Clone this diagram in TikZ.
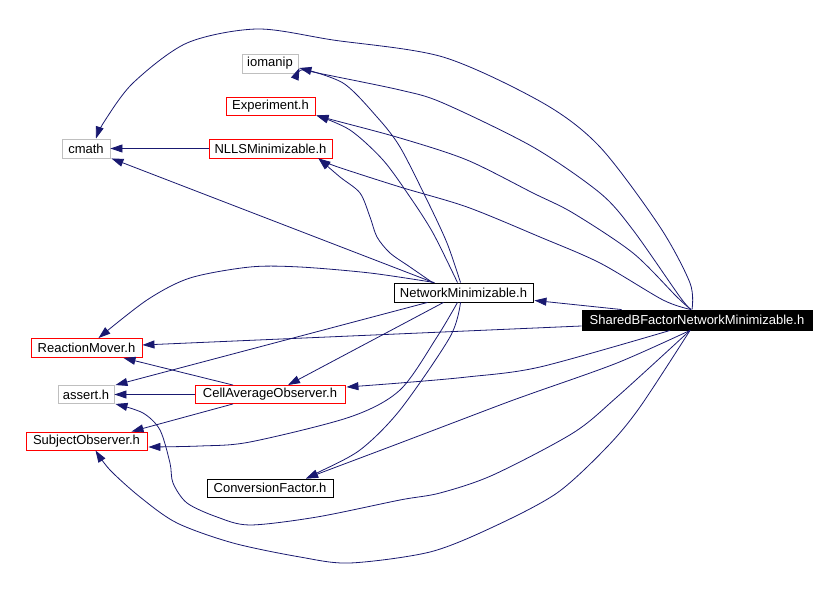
\documentclass[tikz,border=0pt]{standalone}
\usepackage{fontspec}
\setmainfont{Liberation Sans}
\usetikzlibrary{arrows.meta,calc}
\definecolor{edgec}{RGB}{25,25,112}
\definecolor{grayb}{RGB}{191,191,191}
\tikzset{
  box/.style={rectangle, draw, line width=0.9pt, inner sep=0pt, fill=white,
    font=\fontsize{13}{15}\selectfont},
  redbox/.style={box, draw=red},
  graybox/.style={box, draw=grayb},
  blackbox/.style={box, draw=black},
  edge/.style={draw=edgec, line width=0.8pt, -{Triangle[length=12pt,width=8pt]}},
  sm/.style={smooth, tension=0.5}
}
\begin{document}
\begin{tikzpicture}[x=1pt,y=-1pt]
\useasboundingbox (0,0) rectangle (836,601);
% nodes
\node[graybox, minimum width=56pt, minimum height=19pt] (iom) at (270,63.5) {iomanip};
\node[redbox, minimum width=89pt, minimum height=18pt] (exp) at (270.5,106) {Experiment.h};
\node[graybox, minimum width=48pt, minimum height=19pt] (cm) at (86,148.5) {cmath};
\node[redbox, minimum width=123pt, minimum height=19pt] (nlls) at (270.5,148.5) {NLLSMinimizable.h};
\node[blackbox, minimum width=139pt, minimum height=19pt] (nm) at (463.5,292.5) {NetworkMinimizable.h};
\node[box, draw=black, fill=black, text=white, minimum width=230pt, minimum height=20pt] (sb) at (697,320) {SharedBFactorNetworkMinimizable.h};
\node[redbox, minimum width=111pt, minimum height=19pt] (rm) at (86.5,348) {ReactionMover.h};
\node[graybox, minimum width=56pt, minimum height=18pt] (ash) at (86,394.5) {assert.h};
\node[redbox, minimum width=150pt, minimum height=18pt] (ca) at (270,394.5) {CellAverageObserver.h};
\node[redbox, minimum width=121pt, minimum height=18pt] (so) at (86.5,441) {SubjectObserver.h};
\node[blackbox, minimum width=126pt, minimum height=18pt] (cf) at (270,488) {ConversionFactor.h};

% edges from SharedBFactorNetworkMinimizable.h
\draw[edge] plot[sm] coordinates {($(sb.north)+(-5,0)$) (690,283) (660,227) (600,147) (543,103) (443,57) (333,40) (257,29) (187,43) (133,83) (104,122) ($(cm.north)+(10,0)$)};
\draw[edge] plot[sm] coordinates {($(sb.north)+(-6,0)$) (680,297) (633,230) (600,193) (533,147) (443,103) (400,90) (313,72) ($(iom.east)+(1,4.5)$)};
\draw[edge] plot[sm] coordinates {($(sb.north)+(-6,0)$) (677,297) (633,253) (573,213) (533,193) (467,160) (400,138) (333,120) ($(exp.south east)+(1,0)$)};
\draw[edge] plot[sm] coordinates {($(sb.north)+(-6,0)$) (663,300) (600,263) (540,237) (467,207) (400,187) (335,166) ($(nlls.south east)+(-14,0)$)};
\draw[edge] ($(sb.north west)+(40,0)$) -- ($(nm.south east)+(1,-2)$);
\draw[edge] ($(sb.west)+(0,6)$) -- ($(rm.east)+(0,-3)$);
\draw[edge] plot[sm] coordinates {($(sb.south)+(-27,0)$) (540,367) (467,377) (400,383) ($(ca.north east)+(1,2)$)};
\draw[edge] plot[sm] coordinates {($(sb.south)+(-7,0)$) (617,363) (533,393) (500,405) (400,443) (323,472) ($(cf.north)+(36,0)$)};
\draw[edge] plot[sm] coordinates {($(sb.south)+(-7,0)$) (617,397) (573,433) (493,475) (440,493) (400,500) (317,517) (250,525) (217,517) (187,503) (173,483) (170,463) (160,430) (143,413) ($(ash.south east)+(1,0)$)};
\draw[edge] plot[sm] coordinates {($(sb.south)+(-7,0)$) (640,407) (607,447) (557,493) (493,527) (430,552) (350,563) (300,557) (233,543) (177,523) (140,497) (110,470) ($(so.south)+(9,0)$)};

% edges from NetworkMinimizable.h
\draw[edge] ($(nm.north)+(-30,0)$) -- ($(cm.south east)+(1,0)$);
\draw[edge] plot[sm] coordinates {($(nm.north)+(-31,0)$) (410,267) (390,253) (377,237) (370,217) (360,193) (340,177) ($(nlls.south east)+(-14,0)$)};
\draw[edge] plot[sm] coordinates {($(nm.north)+(-6,0)$) (433,233) (410,197) (383,160) (350,130) ($(exp.south east)+(1,0)$)};
\draw[edge] plot[sm] coordinates {($(nm.north)+(-3,0)$) (447,243) (427,200) (400,147) (377,117) (343,83) ($(iom.east)+(1,4.5)$)};
\draw[edge] plot[sm] coordinates {($(nm.north)+(-29,0)$) (370,273) (300,267) (250,267) (190,278) (147,300) ($(rm.north)+(12,0)$)};
\draw[edge] ($(nm.south)+(-36,0)$) -- ($(ash.north east)+(1,0)$);
\draw[edge] ($(nm.south)+(-20,0)$) -- ($(ca.north)+(18,0)$);
\draw[edge] plot[sm] coordinates {($(nm.south)+(-6,0)$) (437,337) (400,390) (350,417) (250,442) (200,446) ($(so.east)+(1,6)$)};
\draw[edge] plot[sm] coordinates {($(nm.south)+(-3,0)$) (450,337) (400,410) (360,450) (317,473) ($(cf.north)+(36,0)$)};

% other edges
\draw[edge] ($(ca.north)+(-37,0)$) -- ($(rm.south)+(37,0)$);
\draw[edge] (ca.west) -- (ash.east);
\draw[edge] ($(ca.south)+(-37,0)$) -- ($(so.north)+(45,0)$);
\draw[edge] (nlls.west) -- (cm.east);
\end{tikzpicture}
\end{document}
